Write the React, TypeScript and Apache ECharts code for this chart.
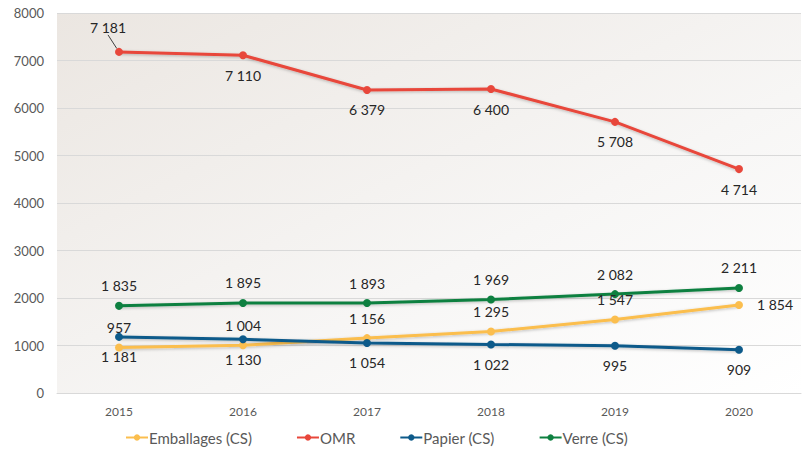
import React, { useEffect, useRef } from "react";
import * as echarts from "echarts";

const years = ["2015", "2016", "2017", "2018", "2019", "2020"];
const emballages = [957, 1004, 1156, 1295, 1547, 1854];
const omr = [7181, 7110, 6379, 6400, 5708, 4714];
const papier = [1181, 1130, 1054, 1022, 995, 909];
const verre = [1835, 1895, 1893, 1969, 2082, 2211];

const fmt = (v: number) => {
  const s = String(Math.round(v));
  return s.replace(/\B(?=(\d{3})+(?!\d))/g, " ");
};

const FONT = "Lato, 'Noto Sans', sans-serif";

export default function App() {
  const ref = useRef<HTMLDivElement>(null);
  useEffect(() => {
    if (!ref.current) return;
    const chart = echarts.init(ref.current, null, { renderer: "svg" });
    const labelStyle = {
      show: true,
      color: "#262626",
      fontSize: 14,
      fontFamily: FONT,
      distance: 9,
      formatter: (p: any) => fmt(p.value),
    };
    const mk = (name: string, data: any[], color: string, pos: string, extra: any = {}) => ({
      name,
      type: "line",
      data,
      symbol: "circle",
      symbolSize: 8,
      lineStyle: { width: 3, color, shadowColor: "rgba(0,0,0,0.25)", shadowBlur: 3, shadowOffsetY: 1 },
      itemStyle: { color },
      label: { ...labelStyle, position: pos },
      labelLine: { show: false },
      ...extra,
    });
    chart.setOption({
      animation: false,
      textStyle: { fontFamily: FONT },
      grid: {
        left: 57,
        right: 5,
        top: 13,
        bottom: 63,
        show: true,
        borderWidth: 0,
        backgroundColor: {
          type: "linear",
          x: 0,
          y: 0,
          x2: 1,
          y2: 1,
          colorStops: [
            { offset: 0, color: "#EBE6E1" },
            { offset: 0.6, color: "#F7F6F5" },
            { offset: 1, color: "#FFFFFF" },
          ],
        },
      },
      xAxis: {
        type: "category",
        data: years,
        boundaryGap: true,
        axisLine: { show: true, lineStyle: { color: "#D9D9D9", width: 1 } },
        axisTick: { show: false },
        axisLabel: { color: "#595959", fontSize: 12, margin: 12, fontFamily: FONT },
      },
      yAxis: {
        type: "value",
        min: 0,
        max: 8000,
        interval: 1000,
        axisLine: { show: false },
        axisTick: { show: false },
        splitLine: { lineStyle: { color: "#D9D9D9", width: 1 } },
        axisLabel: {
          color: "#595959",
          fontSize: 13,
          margin: 13,
          fontFamily: FONT,
          formatter: (v: number) => String(v),
        },
      },
      legend: {
        bottom: 6,
        left: 120,
        itemWidth: 22,
        itemHeight: 8,
        itemGap: 44,
        textStyle: { color: "#595959", fontSize: 15, fontFamily: FONT, padding: [0, 0, 0, -4] },
        data: ["Emballages (CS)", "OMR", "Papier (CS)", "Verre (CS)"],
      },
      series: [
        mk(
          "Emballages (CS)",
          emballages.map((v, i) =>
            i === emballages.length - 1 ? { value: v, label: { position: "right", distance: 14 } } : v
          ),
          "#FBBE4E",
          "top"
        ),
        mk(
          "OMR",
          omr.map((v, i) =>
            i === 0
              ? { value: v, label: { position: "top", distance: 6 }, labelLine: { show: true } }
              : v
          ),
          "#E8473B",
          "bottom",
          {
            labelLayout: (p: any) => (p.dataIndex === 0 ? { dx: -11, dy: -7 } : {}),
            labelLine: { show: false, lineStyle: { color: "#404040", width: 1 } },
          }
        ),
        mk("Papier (CS)", papier, "#0D5A8A", "bottom"),
        mk("Verre (CS)", verre, "#0E8040", "top"),
      ],
    });
    return () => chart.dispose();
  }, []);
  return <div ref={ref} style={{ width: 806, height: 456, position: "absolute", left: 0, top: 0 }} />;
}
